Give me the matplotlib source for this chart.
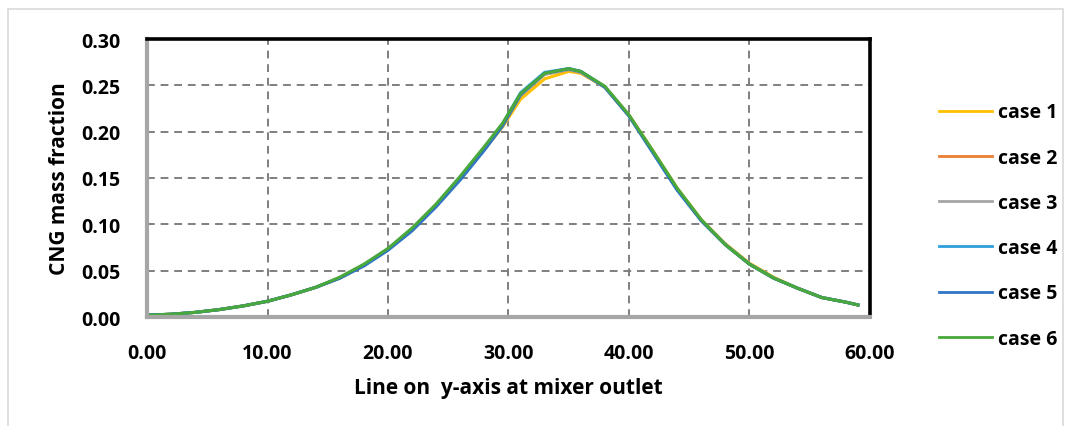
import matplotlib
matplotlib.use("Agg")
import matplotlib.pyplot as plt
from matplotlib.patches import Rectangle

# position along the line (x) and CNG mass fraction for each case
x = [0, 1, 2, 4, 6, 8, 10, 12, 14, 16, 18, 20, 22, 24, 26, 28, 29.5, 31,
     33, 35, 36, 38, 40, 42, 44, 46, 48, 50, 52, 54, 56, 58, 59]

case1 = [0.002, 0.0025, 0.003, 0.005, 0.008, 0.012, 0.017, 0.024, 0.032,
         0.042, 0.056, 0.073, 0.095, 0.121, 0.150, 0.181, 0.205, 0.235,
         0.257, 0.265, 0.263, 0.248, 0.218, 0.179, 0.139, 0.105, 0.079,
         0.058, 0.043, 0.031, 0.021, 0.016, 0.013]
case2 = [0.002, 0.0025, 0.003, 0.005, 0.008, 0.012, 0.017, 0.024, 0.032,
         0.042, 0.056, 0.073, 0.095, 0.121, 0.150, 0.182, 0.207, 0.239,
         0.262, 0.267, 0.264, 0.248, 0.217, 0.178, 0.138, 0.104, 0.078,
         0.057, 0.042, 0.031, 0.021, 0.016, 0.013]
case3 = [0.002, 0.0025, 0.003, 0.005, 0.008, 0.012, 0.017, 0.024, 0.032,
         0.042, 0.056, 0.073, 0.095, 0.121, 0.150, 0.182, 0.207, 0.239,
         0.262, 0.267, 0.264, 0.248, 0.217, 0.178, 0.138, 0.104, 0.078,
         0.057, 0.042, 0.031, 0.021, 0.016, 0.013]
case4 = [0.002, 0.0025, 0.003, 0.005, 0.008, 0.012, 0.017, 0.024, 0.032,
         0.042, 0.056, 0.073, 0.095, 0.121, 0.150, 0.182, 0.208, 0.242,
         0.264, 0.268, 0.265, 0.248, 0.217, 0.177, 0.137, 0.104, 0.078,
         0.057, 0.042, 0.031, 0.021, 0.016, 0.013]
case5 = [0.002, 0.0025, 0.003, 0.005, 0.008, 0.012, 0.017, 0.024, 0.032,
         0.042, 0.055, 0.072, 0.093, 0.119, 0.148, 0.180, 0.206, 0.240,
         0.263, 0.268, 0.265, 0.248, 0.217, 0.177, 0.137, 0.104, 0.078,
         0.057, 0.042, 0.031, 0.021, 0.016, 0.013]
case6 = [0.002, 0.0025, 0.003, 0.005, 0.008, 0.012, 0.017, 0.024, 0.032,
         0.043, 0.057, 0.074, 0.096, 0.122, 0.152, 0.184, 0.209, 0.241,
         0.263, 0.268, 0.265, 0.249, 0.218, 0.179, 0.139, 0.105, 0.078,
         0.057, 0.042, 0.031, 0.021, 0.016, 0.013]

labels = ["case 1", "case 2", "case 3", "case 4", "case 5", "case 6"]
colors = ["#FFC000", "#ED7D31", "#A5A5A5", "#2E9FDC", "#2F75C6", "#48A83C"]

x_ticks = [0, 10, 20, 30, 40, 50, 60]
y_ticks = [0.0, 0.05, 0.10, 0.15, 0.20, 0.25, 0.30]

plt.rcParams["font.family"] = ["Open Sans", "DejaVu Sans"]
plt.rcParams["font.weight"] = "bold"

fig = plt.figure(figsize=(10.73, 4.27), dpi=100)
ax = fig.add_axes([147 / 1073, 1 - 318 / 427, (870 - 147) / 1073, (318 - 40) / 427])

# light frame around the whole chart
fig.patches.append(Rectangle((8 / 1073, -0.05), 1055 / 1073, 1 - 10 / 427 + 0.05,
                             transform=fig.transFigure, fill=False,
                             edgecolor="#D9D9D9", linewidth=1.2))

for ys, lab, col in zip([case1, case2, case3, case4, case5, case6], labels, colors):
    ax.plot(x, ys, color=col, linewidth=2.2, label=lab)

ax.set_xlim(0, 60)
ax.set_ylim(0, 0.30)
ax.set_xticks(x_ticks)
ax.set_yticks(y_ticks)
ax.set_xticklabels([f"{v:.2f}" for v in x_ticks], fontweight="bold")
ax.set_yticklabels([f"{v:.2f}" for v in y_ticks], fontweight="bold")
ax.tick_params(length=0, labelsize=14)
ax.tick_params(axis="y", pad=19)
ax.tick_params(axis="x", pad=19)
ax.grid(True, color="#7F7F7F", linestyle=(0, (4, 3)), linewidth=1.4)
ax.set_axisbelow(True)

for side in ("top", "right"):
    ax.spines[side].set_color("black")
    ax.spines[side].set_linewidth(2.6)
for side in ("left", "bottom"):
    ax.spines[side].set_color("#A6A6A6")
    ax.spines[side].set_linewidth(3)

ax.set_xlabel("Line on  y-axis at mixer outlet", fontsize=15, fontweight="bold", labelpad=10)
ax.set_ylabel("CNG mass fraction", fontsize=15, fontweight="bold", labelpad=8)

leg = ax.legend(loc="upper left", bbox_to_anchor=(1.085, 0.80), frameon=False,
                prop={"size": 14, "weight": "bold"}, handlelength=2.7,
                handletextpad=0.3, labelspacing=1.3, borderaxespad=0)
for line in leg.get_lines():
    line.set_linewidth(2)

fig.savefig("out.png", dpi=100)
